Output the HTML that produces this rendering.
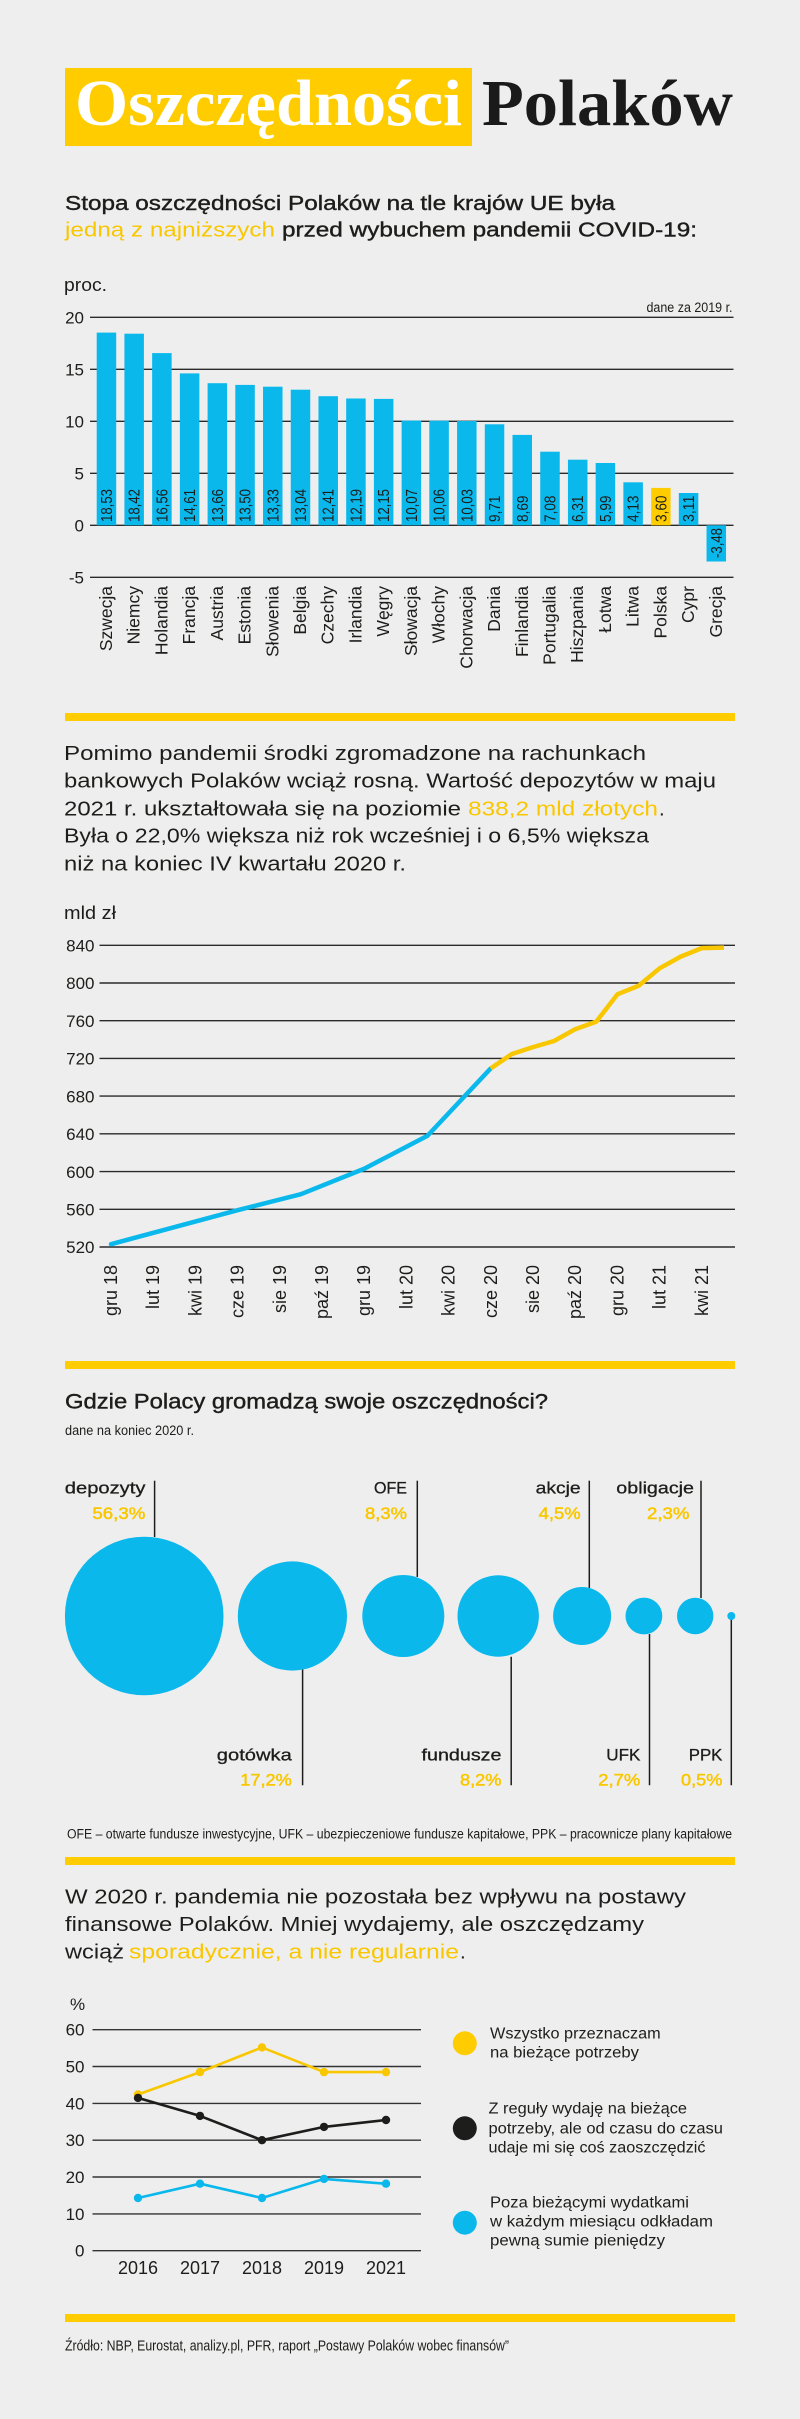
<!DOCTYPE html>
<html><head><meta charset="utf-8"><title>Oszczędności Polaków</title>
<style>
html,body{margin:0;padding:0;background:#eeeeee;}
svg{display:block;}
text{font-family:"Liberation Sans","DejaVu Sans",sans-serif;fill:#1d1d1b;}
.ser{font-family:"Liberation Serif","DejaVu Serif",serif;font-weight:bold;}
.y{fill:#f9c700;}
.sb{stroke:#1d1d1b;stroke-width:0.4;}
.ys{fill:#f9c700;stroke:#f9c700;stroke-width:0.5;}
.ls{stroke:#1d1d1b;stroke-width:0.3;}
</style></head>
<body>
<svg width="800" height="2419" viewBox="0 0 800 2419" xmlns="http://www.w3.org/2000/svg">
<rect x="0" y="0" width="800" height="2419" fill="#eeeeee"/>

<!-- Title -->
<rect x="65" y="68" width="407" height="78" fill="#ffcc00"/>
<text class="ser" x="75" y="125" font-size="66" style="fill:#ffffff" textLength="387" lengthAdjust="spacingAndGlyphs">Oszczędności</text>
<text class="ser" x="482" y="125" font-size="66" style="fill:#1a1a1a" textLength="251" lengthAdjust="spacingAndGlyphs">Polaków</text>

<!-- Subtitle -->
<text class="sb" x="65" y="210" font-size="20.5" textLength="550" lengthAdjust="spacingAndGlyphs">Stopa oszczędności Polaków na tle krajów UE była</text>
<text class="y" x="65" y="236.5" font-size="20.5" textLength="210" lengthAdjust="spacingAndGlyphs">jedną z najniższych</text>
<text class="sb" x="282" y="236.5" font-size="20.5" textLength="415" lengthAdjust="spacingAndGlyphs">przed wybuchem pandemii COVID-19:</text>

<!-- Bar chart -->
<text x="64" y="291" font-size="18" textLength="43" lengthAdjust="spacingAndGlyphs">proc.</text>
<text x="732.5" y="312" font-size="13.5" text-anchor="end" textLength="86" lengthAdjust="spacingAndGlyphs">dane za 2019 r.</text>
<g stroke="#2a2a2a" stroke-width="1.4">
<line x1="90" y1="317.3" x2="733.5" y2="317.3"/>
<line x1="90" y1="369.3" x2="733.5" y2="369.3"/>
<line x1="90" y1="421.3" x2="733.5" y2="421.3"/>
<line x1="90" y1="473.3" x2="733.5" y2="473.3"/>
<line x1="90" y1="525.3" x2="733.5" y2="525.3"/>
<line x1="90" y1="577.3" x2="733.5" y2="577.3"/>
</g>
<g font-size="17" text-anchor="end">
<text x="84" y="323.3">20</text>
<text x="84" y="375.3">15</text>
<text x="84" y="427.3">10</text>
<text x="84" y="479.3">5</text>
<text x="84" y="531.3">0</text>
<text x="84" y="583.3">-5</text>
</g>
<g fill="#0ab8ec">
<rect x="96.7" y="332.6" width="19.5" height="192.7"/>
<rect x="124.42" y="333.7" width="19.5" height="191.6"/>
<rect x="152.14" y="353.1" width="19.5" height="172.2"/>
<rect x="179.86" y="373.4" width="19.5" height="151.9"/>
<rect x="207.58" y="383.2" width="19.5" height="142.1"/>
<rect x="235.3" y="384.9" width="19.5" height="140.4"/>
<rect x="263.02" y="386.7" width="19.5" height="138.6"/>
<rect x="290.74" y="389.7" width="19.5" height="135.6"/>
<rect x="318.46" y="396.2" width="19.5" height="129.1"/>
<rect x="346.18" y="398.5" width="19.5" height="126.8"/>
<rect x="373.9" y="398.9" width="19.5" height="126.4"/>
<rect x="401.62" y="420.6" width="19.5" height="104.7"/>
<rect x="429.34" y="420.7" width="19.5" height="104.6"/>
<rect x="457.06" y="421.0" width="19.5" height="104.3"/>
<rect x="484.78" y="424.3" width="19.5" height="101.0"/>
<rect x="512.5" y="434.9" width="19.5" height="90.4"/>
<rect x="540.22" y="451.7" width="19.5" height="73.6"/>
<rect x="567.94" y="459.7" width="19.5" height="65.6"/>
<rect x="595.66" y="463.0" width="19.5" height="62.3"/>
<rect x="623.38" y="482.3" width="19.5" height="43.0"/>
<rect x="678.82" y="493.0" width="19.5" height="32.3"/>
<rect x="706.54" y="525.3" width="19.5" height="36.2"/>
</g>
<rect x="651.1" y="487.9" width="19.5" height="37.4" fill="#ffcc00"/>
<!-- value labels -->
<g font-size="16">
<text transform="translate(111.95,522) rotate(-90)" textLength="33" lengthAdjust="spacingAndGlyphs">18,53</text>
<text transform="translate(139.67,522) rotate(-90)" textLength="33" lengthAdjust="spacingAndGlyphs">18,42</text>
<text transform="translate(167.39,522) rotate(-90)" textLength="33" lengthAdjust="spacingAndGlyphs">16,56</text>
<text transform="translate(195.11,522) rotate(-90)" textLength="33" lengthAdjust="spacingAndGlyphs">14,61</text>
<text transform="translate(222.83,522) rotate(-90)" textLength="33" lengthAdjust="spacingAndGlyphs">13,66</text>
<text transform="translate(250.55,522) rotate(-90)" textLength="33" lengthAdjust="spacingAndGlyphs">13,50</text>
<text transform="translate(278.27,522) rotate(-90)" textLength="33" lengthAdjust="spacingAndGlyphs">13,33</text>
<text transform="translate(305.99,522) rotate(-90)" textLength="33" lengthAdjust="spacingAndGlyphs">13,04</text>
<text transform="translate(333.71,522) rotate(-90)" textLength="33" lengthAdjust="spacingAndGlyphs">12,41</text>
<text transform="translate(361.43,522) rotate(-90)" textLength="33" lengthAdjust="spacingAndGlyphs">12,19</text>
<text transform="translate(389.15,522) rotate(-90)" textLength="33" lengthAdjust="spacingAndGlyphs">12,15</text>
<text transform="translate(416.87,522) rotate(-90)" textLength="33" lengthAdjust="spacingAndGlyphs">10,07</text>
<text transform="translate(444.59,522) rotate(-90)" textLength="33" lengthAdjust="spacingAndGlyphs">10,06</text>
<text transform="translate(472.31,522) rotate(-90)" textLength="33" lengthAdjust="spacingAndGlyphs">10,03</text>
<text transform="translate(500.03,522) rotate(-90)" textLength="26.5" lengthAdjust="spacingAndGlyphs">9,71</text>
<text transform="translate(527.75,522) rotate(-90)" textLength="26.5" lengthAdjust="spacingAndGlyphs">8,69</text>
<text transform="translate(555.47,522) rotate(-90)" textLength="26.5" lengthAdjust="spacingAndGlyphs">7,08</text>
<text transform="translate(583.19,522) rotate(-90)" textLength="26.5" lengthAdjust="spacingAndGlyphs">6,31</text>
<text transform="translate(610.91,522) rotate(-90)" textLength="26.5" lengthAdjust="spacingAndGlyphs">5,99</text>
<text transform="translate(638.63,522) rotate(-90)" textLength="26.5" lengthAdjust="spacingAndGlyphs">4,13</text>
<text transform="translate(666.35,522) rotate(-90)" textLength="26.5" lengthAdjust="spacingAndGlyphs">3,60</text>
<text transform="translate(694.07,522) rotate(-90)" textLength="26.5" lengthAdjust="spacingAndGlyphs">3,11</text>
<text transform="translate(721.79,558) rotate(-90)" textLength="30" lengthAdjust="spacingAndGlyphs">-3,48</text>
</g>
<!-- country labels -->
<g font-size="17.5" text-anchor="end">
<text transform="translate(111.95,586) rotate(-90)">Szwecja</text>
<text transform="translate(139.67,586) rotate(-90)">Niemcy</text>
<text transform="translate(167.39,586) rotate(-90)">Holandia</text>
<text transform="translate(195.11,586) rotate(-90)">Francja</text>
<text transform="translate(222.83,586) rotate(-90)">Austria</text>
<text transform="translate(250.55,586) rotate(-90)">Estonia</text>
<text transform="translate(278.27,586) rotate(-90)">Słowenia</text>
<text transform="translate(305.99,586) rotate(-90)">Belgia</text>
<text transform="translate(333.71,586) rotate(-90)">Czechy</text>
<text transform="translate(361.43,586) rotate(-90)">Irlandia</text>
<text transform="translate(389.15,586) rotate(-90)">Węgry</text>
<text transform="translate(416.87,586) rotate(-90)">Słowacja</text>
<text transform="translate(444.59,586) rotate(-90)">Włochy</text>
<text transform="translate(472.31,586) rotate(-90)">Chorwacja</text>
<text transform="translate(500.03,586) rotate(-90)">Dania</text>
<text transform="translate(527.75,586) rotate(-90)">Finlandia</text>
<text transform="translate(555.47,586) rotate(-90)">Portugalia</text>
<text transform="translate(583.19,586) rotate(-90)">Hiszpania</text>
<text transform="translate(610.91,586) rotate(-90)">Łotwa</text>
<text transform="translate(638.63,586) rotate(-90)">Litwa</text>
<text transform="translate(666.35,586) rotate(-90)">Polska</text>
<text transform="translate(694.07,586) rotate(-90)">Cypr</text>
<text transform="translate(721.79,586) rotate(-90)">Grecja</text>
</g>

<!-- Separator 1 -->
<rect x="65" y="713" width="670" height="8" fill="#ffcc00"/>

<!-- Paragraph 2 -->
<g font-size="20.5">
<text x="64" y="760" textLength="582" lengthAdjust="spacingAndGlyphs">Pomimo pandemii środki zgromadzone na rachunkach</text>
<text x="64" y="787.7" textLength="652" lengthAdjust="spacingAndGlyphs">bankowych Polaków wciąż rosną. Wartość depozytów w maju</text>
<text x="64" y="815.3" textLength="397" lengthAdjust="spacingAndGlyphs">2021 r. ukształtowała się na poziomie</text>
<text class="y" x="468" y="815.3" textLength="190" lengthAdjust="spacingAndGlyphs">838,2 mld złotych</text>
<text x="659" y="815.3">.</text>
<text x="64" y="842.7" textLength="585" lengthAdjust="spacingAndGlyphs">Była o 22,0% większa niż rok wcześniej i o 6,5% większa</text>
<text x="64" y="870.3" textLength="342" lengthAdjust="spacingAndGlyphs">niż na koniec IV kwartału 2020 r.</text>
</g>

<!-- Line chart 2 -->
<text x="64" y="919" font-size="18" textLength="52" lengthAdjust="spacingAndGlyphs">mld zł</text>
<g stroke="#2a2a2a" stroke-width="1.4">
<line x1="99.5" y1="945.3" x2="735" y2="945.3"/>
<line x1="99.5" y1="983.0" x2="735" y2="983.0"/>
<line x1="99.5" y1="1020.7" x2="735" y2="1020.7"/>
<line x1="99.5" y1="1058.4" x2="735" y2="1058.4"/>
<line x1="99.5" y1="1096.1" x2="735" y2="1096.1"/>
<line x1="99.5" y1="1133.8" x2="735" y2="1133.8"/>
<line x1="99.5" y1="1171.6" x2="735" y2="1171.6"/>
<line x1="99.5" y1="1209.3" x2="735" y2="1209.3"/>
<line x1="99.5" y1="1247.0" x2="735" y2="1247.0"/>
</g>
<g font-size="17" text-anchor="end">
<text x="94.5" y="951.5">840</text>
<text x="94.5" y="989.2">800</text>
<text x="94.5" y="1026.9">760</text>
<text x="94.5" y="1064.6">720</text>
<text x="94.5" y="1102.3">680</text>
<text x="94.5" y="1140.0">640</text>
<text x="94.5" y="1177.8">600</text>
<text x="94.5" y="1215.5">560</text>
<text x="94.5" y="1253.2">520</text>
</g>
<polyline fill="none" stroke="#0ab8ec" stroke-width="4.5" stroke-linejoin="round" stroke-linecap="round"
 points="111,1244.17 237.6,1210.23 300.9,1194.2 364.2,1168.75 427.5,1135.75 490.8,1068.34"/>
<polyline fill="none" stroke="#f9c700" stroke-width="4.5" stroke-linejoin="round" stroke-linecap="butt"
 points="490.8,1068.34 511.9,1054.01 533,1047.13 554.1,1041 575.2,1029.21 596.3,1021.67 617.4,994.33 638.5,985.84 659.6,968.31 680.7,956.62 701.8,948.13 724,947.66"/>
<g font-size="18" text-anchor="end">
<text transform="translate(117,1265) rotate(-90)">gru 18</text>
<text transform="translate(159.2,1265) rotate(-90)">lut 19</text>
<text transform="translate(201.4,1265) rotate(-90)">kwi 19</text>
<text transform="translate(243.6,1265) rotate(-90)">cze 19</text>
<text transform="translate(285.8,1265) rotate(-90)">sie 19</text>
<text transform="translate(328,1265) rotate(-90)">paź 19</text>
<text transform="translate(370.2,1265) rotate(-90)">gru 19</text>
<text transform="translate(412.4,1265) rotate(-90)">lut 20</text>
<text transform="translate(454.6,1265) rotate(-90)">kwi 20</text>
<text transform="translate(496.8,1265) rotate(-90)">cze 20</text>
<text transform="translate(539,1265) rotate(-90)">sie 20</text>
<text transform="translate(581.2,1265) rotate(-90)">paź 20</text>
<text transform="translate(623.4,1265) rotate(-90)">gru 20</text>
<text transform="translate(665.6,1265) rotate(-90)">lut 21</text>
<text transform="translate(707.8,1265) rotate(-90)">kwi 21</text>
</g>

<!-- Separator 2 -->
<rect x="65" y="1361" width="670" height="8" fill="#ffcc00"/>

<!-- Bubble section -->
<text class="sb" x="65" y="1408.3" font-size="21" textLength="483" lengthAdjust="spacingAndGlyphs">Gdzie Polacy gromadzą swoje oszczędności?</text>
<text x="65" y="1435" font-size="13.5" textLength="129" lengthAdjust="spacingAndGlyphs">dane na koniec 2020 r.</text>

<g stroke="#1d1d1b" stroke-width="1.5">
<line x1="154.6" y1="1480.7" x2="154.6" y2="1537"/>
<line x1="417.3" y1="1480.7" x2="417.3" y2="1577"/>
<line x1="589.3" y1="1480.7" x2="589.3" y2="1588"/>
<line x1="701" y1="1480.7" x2="701" y2="1598"/>
<line x1="302.6" y1="1669" x2="302.6" y2="1785.3"/>
<line x1="511.2" y1="1656.7" x2="511.2" y2="1785.3"/>
<line x1="649.5" y1="1634" x2="649.5" y2="1785.3"/>
<line x1="731.3" y1="1616.7" x2="731.3" y2="1785.3"/>
</g>
<g fill="#0ab8ec">
<circle cx="144.2" cy="1616" r="79.3"/>
<circle cx="292.4" cy="1616" r="54.6"/>
<circle cx="403.3" cy="1616" r="41"/>
<circle cx="498.2" cy="1616" r="40.7"/>
<circle cx="582.1" cy="1616" r="29"/>
<circle cx="643.9" cy="1616" r="18.4"/>
<circle cx="695.2" cy="1616" r="18.2"/>
<circle cx="731.3" cy="1616" r="4"/>
</g>
<g font-size="17" text-anchor="end">
<text class="ls" x="145.4" y="1493.3" textLength="80.6" lengthAdjust="spacingAndGlyphs">depozyty</text>
<text class="ys" x="145.4" y="1519" textLength="53" lengthAdjust="spacingAndGlyphs">56,3%</text>
<text class="ls" x="407" y="1493.3" textLength="33" lengthAdjust="spacingAndGlyphs">OFE</text>
<text class="ys" x="407" y="1519" textLength="42" lengthAdjust="spacingAndGlyphs">8,3%</text>
<text class="ls" x="580.6" y="1493.3" textLength="45" lengthAdjust="spacingAndGlyphs">akcje</text>
<text class="ys" x="580.6" y="1519" textLength="42" lengthAdjust="spacingAndGlyphs">4,5%</text>
<text class="ls" x="694" y="1493.3" textLength="77.7" lengthAdjust="spacingAndGlyphs">obligacje</text>
<text class="ys" x="689.5" y="1519" textLength="42.5" lengthAdjust="spacingAndGlyphs">2,3%</text>
<text class="ls" x="291.8" y="1760.7" textLength="75" lengthAdjust="spacingAndGlyphs">gotówka</text>
<text class="ys" x="291.8" y="1785.7" textLength="51.5" lengthAdjust="spacingAndGlyphs">17,2%</text>
<text class="ls" x="501.5" y="1760.7" textLength="80" lengthAdjust="spacingAndGlyphs">fundusze</text>
<text class="ys" x="501.5" y="1785.7" textLength="41.5" lengthAdjust="spacingAndGlyphs">8,2%</text>
<text class="ls" x="640.3" y="1760.7" textLength="34" lengthAdjust="spacingAndGlyphs">UFK</text>
<text class="ys" x="640.3" y="1785.7" textLength="42" lengthAdjust="spacingAndGlyphs">2,7%</text>
<text class="ls" x="722.4" y="1760.7" textLength="33.6" lengthAdjust="spacingAndGlyphs">PPK</text>
<text class="ys" x="722.4" y="1785.7" textLength="41.4" lengthAdjust="spacingAndGlyphs">0,5%</text>
</g>
<text x="67" y="1838.3" font-size="13.5" textLength="665" lengthAdjust="spacingAndGlyphs">OFE – otwarte fundusze inwestycyjne, UFK – ubezpieczeniowe fundusze kapitałowe, PPK – pracownicze plany kapitałowe</text>

<!-- Separator 3 -->
<rect x="65" y="1857" width="670" height="8" fill="#ffcc00"/>

<!-- Paragraph 3 -->
<g font-size="20.5">
<text x="65" y="1903.3" textLength="621" lengthAdjust="spacingAndGlyphs">W 2020 r. pandemia nie pozostała bez wpływu na postawy</text>
<text x="65" y="1931" textLength="579" lengthAdjust="spacingAndGlyphs">finansowe Polaków. Mniej wydajemy, ale oszczędzamy</text>
<text x="65" y="1958.7" textLength="59" lengthAdjust="spacingAndGlyphs">wciąż</text>
<text class="y" x="129" y="1958.7" textLength="330" lengthAdjust="spacingAndGlyphs">sporadycznie, a nie regularnie</text>
<text x="460" y="1958.7">.</text>
</g>

<!-- Line chart 3 -->
<text x="70" y="2010" font-size="17">%</text>
<g stroke="#333333" stroke-width="1.4">
<line x1="92.5" y1="2029.7" x2="421" y2="2029.7"/>
<line x1="92.5" y1="2066.5" x2="421" y2="2066.5"/>
<line x1="92.5" y1="2103.4" x2="421" y2="2103.4"/>
<line x1="92.5" y1="2140.2" x2="421" y2="2140.2"/>
<line x1="92.5" y1="2177.0" x2="421" y2="2177.0"/>
<line x1="92.5" y1="2213.9" x2="421" y2="2213.9"/>
<line x1="92.5" y1="2250.7" x2="421" y2="2250.7"/>
</g>
<g font-size="17" text-anchor="end">
<text x="84.5" y="2035.7">60</text>
<text x="84.5" y="2072.5">50</text>
<text x="84.5" y="2109.4">40</text>
<text x="84.5" y="2146.2">30</text>
<text x="84.5" y="2183.0">20</text>
<text x="84.5" y="2219.9">10</text>
<text x="84.5" y="2256.7">0</text>
</g>
<g font-size="18" text-anchor="middle">
<text x="138" y="2274">2016</text>
<text x="200" y="2274">2017</text>
<text x="262" y="2274">2018</text>
<text x="324" y="2274">2019</text>
<text x="386" y="2274">2021</text>
</g>
<polyline fill="none" stroke="#f9c700" stroke-width="2.6" stroke-linejoin="round" points="138,2094.5 200,2072.1 262,2047.4 324,2072.1 386,2072.1"/>
<g fill="#f9c700">
<circle cx="138" cy="2094.5" r="4.2"/><circle cx="200" cy="2072.1" r="4.2"/><circle cx="262" cy="2047.4" r="4.2"/><circle cx="324" cy="2072.1" r="4.2"/><circle cx="386" cy="2072.1" r="4.2"/>
</g>
<polyline fill="none" stroke="#0ab8ec" stroke-width="2.6" stroke-linejoin="round" points="138,2198 200,2183.7 262,2198 324,2178.9 386,2183.7"/>
<g fill="#0ab8ec">
<circle cx="138" cy="2198" r="4.2"/><circle cx="200" cy="2183.7" r="4.2"/><circle cx="262" cy="2198" r="4.2"/><circle cx="324" cy="2178.9" r="4.2"/><circle cx="386" cy="2183.7" r="4.2"/>
</g>
<polyline fill="none" stroke="#1d1d1b" stroke-width="2.6" stroke-linejoin="round" points="138,2097.9 200,2115.9 262,2140.2 324,2126.9 386,2120"/>
<g fill="#1d1d1b">
<circle cx="138" cy="2097.9" r="4.2"/><circle cx="200" cy="2115.9" r="4.2"/><circle cx="262" cy="2140.2" r="4.2"/><circle cx="324" cy="2126.9" r="4.2"/><circle cx="386" cy="2120" r="4.2"/>
</g>

<!-- Legend -->
<circle cx="464.8" cy="2043.3" r="12" fill="#ffcc00"/>
<circle cx="464.8" cy="2128.3" r="12" fill="#1d1d1b"/>
<circle cx="464.8" cy="2222.7" r="12" fill="#0ab8ec"/>
<g font-size="15.5">
<text x="490" y="2038.3" textLength="170.7" lengthAdjust="spacingAndGlyphs">Wszystko przeznaczam</text>
<text x="490" y="2057.3" textLength="149" lengthAdjust="spacingAndGlyphs">na bieżące potrzeby</text>
<text x="488.5" y="2113.3" textLength="198.5" lengthAdjust="spacingAndGlyphs">Z reguły wydaję na bieżące</text>
<text x="488.5" y="2133.3" textLength="234.5" lengthAdjust="spacingAndGlyphs">potrzeby, ale od czasu do czasu</text>
<text x="488.5" y="2152.3" textLength="217" lengthAdjust="spacingAndGlyphs">udaje mi się coś zaoszczędzić</text>
<text x="490" y="2207.7" textLength="199" lengthAdjust="spacingAndGlyphs">Poza bieżącymi wydatkami</text>
<text x="490" y="2226.7" textLength="223" lengthAdjust="spacingAndGlyphs">w każdym miesiącu odkładam</text>
<text x="490" y="2245.7" textLength="175" lengthAdjust="spacingAndGlyphs">pewną sumie pieniędzy</text>
</g>

<!-- Separator 4 -->
<rect x="65" y="2314" width="670" height="8" fill="#ffcc00"/>

<!-- Source -->
<text x="65" y="2350.7" font-size="14.5" textLength="444" lengthAdjust="spacingAndGlyphs">Źródło: NBP, Eurostat, analizy.pl, PFR, raport „Postawy Polaków wobec finansów”</text>
</svg>
</body></html>
